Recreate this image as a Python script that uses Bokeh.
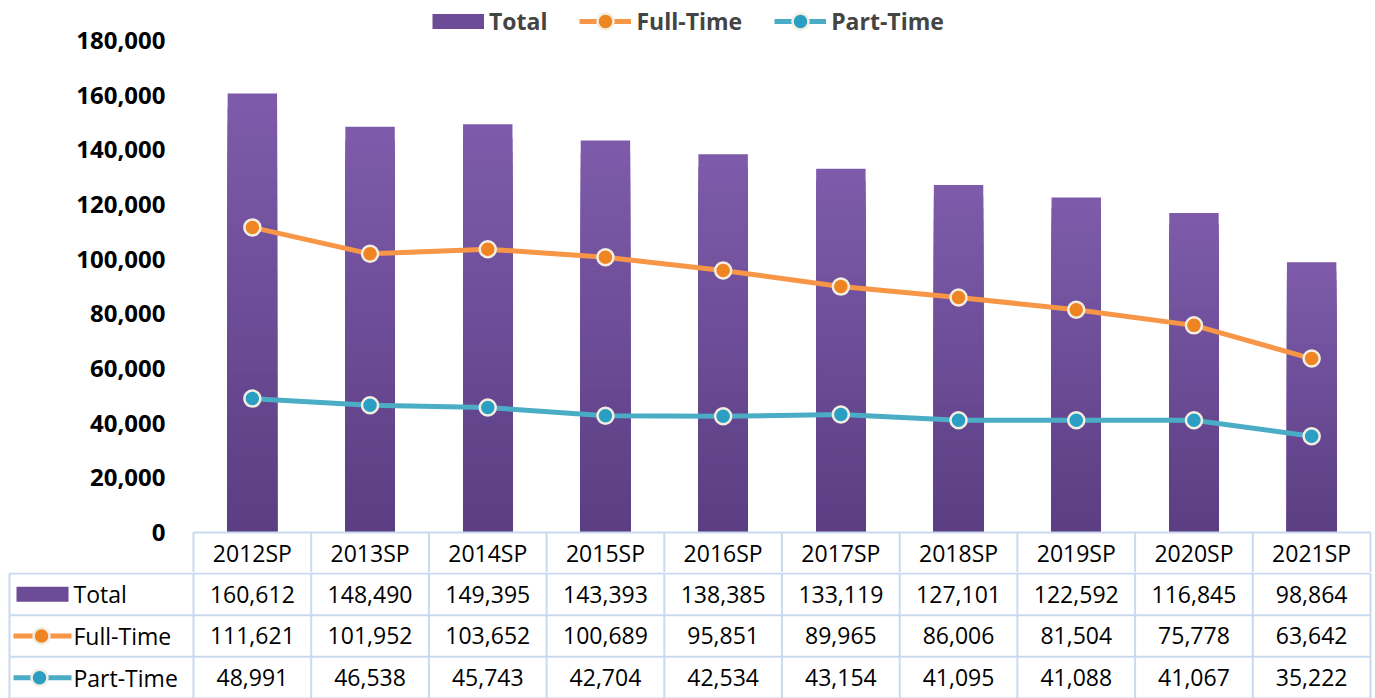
import numpy as np
from bokeh.plotting import figure
from bokeh.layouts import column
from bokeh.models import (Range1d, FixedTicker, NumeralTickFormatter, Legend, LegendItem)
from bokeh.core.properties import value
from bokeh.embed import file_html
from bokeh.resources import INLINE

# ---------------- data ----------------
terms = ["2012SP", "2013SP", "2014SP", "2015SP", "2016SP",
         "2017SP", "2018SP", "2019SP", "2020SP", "2021SP"]
total = [160612, 148490, 149395, 143393, 138385, 133119, 127101, 122592, 116845, 98864]
full_time = [111621, 101952, 103652, 100689, 95851, 89965, 86006, 81504, 75778, 63642]
part_time = [48991, 46538, 45743, 42704, 42534, 43154, 41095, 41088, 41067, 35222]
y_ticks = [0, 20000, 40000, 60000, 80000, 100000, 120000, 140000, 160000, 180000]
series_names = ["Total", "Full-Time", "Part-Time"]

# ---------------- styles ----------------
FONT = "Open Sans"
BAR_TOP = (125, 91, 170)
BAR_BOT = (91, 62, 131)
ORANGE_LINE = "#F79646"
ORANGE_DOT = "#EE8422"
TEAL_LINE = "#4BACC6"
TEAL_DOT = "#2A9EC3"
CREAM = "#F3EEE2"
GRID = "#C9DAF0"
TABLE_FS = "23px"

# ---------------- layout constants (pixels) ----------------
W = 1374
COL_L, COL_R = 193, 1370          # category columns span
COLW = (COL_R - COL_L) / len(terms)
ZERO_Y = 532                      # pixel row of value 0
TOP_Y = 40                        # pixel row of last tick
HEAD_H = 40                       # header row height
TOPH = ZERO_Y + HEAD_H            # chart figure height (includes header row)
UPP = y_ticks[-1] / (ZERO_Y - TOP_Y)   # value units per pixel
FRAME_L = COL_L - 2

xs = list(range(len(terms)))
xr = len(terms) - 0.5
vx = [i - 0.5 for i in range(len(terms) + 1)]

# ---------------- main chart ----------------
p = figure(width=W, height=TOPH,
           x_range=Range1d(-0.5 - (COL_L - FRAME_L) / COLW, xr + (W - COL_R) / COLW),
           y_range=Range1d(-HEAD_H * UPP, y_ticks[-1] + TOP_Y * UPP),
           output_backend="svg", toolbar_location=None,
           min_border_left=FRAME_L, min_border_right=0, min_border_top=0,
           min_border_bottom=0, frame_align=False)
p.xaxis.visible = False
p.grid.visible = False
p.outline_line_color = None
p.background_fill_color = "white"
p.border_fill_color = "white"

ya = p.yaxis[0]
ya.ticker = FixedTicker(ticks=y_ticks)
ya.formatter = NumeralTickFormatter(format="0,0")
ya.major_label_text_font = FONT
ya.major_label_text_font_style = "bold"
ya.major_label_text_font_size = "24px"
ya.major_label_text_color = "black"
ya.axis_line_color = None
ya.major_tick_line_color = None
ya.minor_tick_line_color = None
ya.major_label_standoff = 20

# gradient bars: layered bars, each shorter layer darker (lighter at top)
N = 30
for k in range(N):
    frac = (N - k) / N
    f = 1 - k / (N - 1)
    c = tuple(int(round(BAR_BOT[i] + (BAR_TOP[i] - BAR_BOT[i]) * f)) for i in range(3))
    col = "#%02x%02x%02x" % c
    p.vbar(x=xs, width=0.42, bottom=0, top=[v * frac for v in total],
           fill_color=col, line_color=None)

mid = "#%02x%02x%02x" % tuple(int((BAR_BOT[i] + BAR_TOP[i]) / 2) for i in range(3))
bar_leg = p.line(x=np.array([np.nan]), y=np.array([np.nan]), line_color=mid, line_width=15)

# header row of the data table (category labels)
p.segment(x0=[-0.5], y0=[0], x1=[xr], y1=[0], line_color=GRID, line_width=2)
p.segment(x0=vx, y0=[0] * len(vx), x1=vx, y1=[-HEAD_H * UPP] * len(vx),
          line_color=GRID, line_width=2)
p.text(x=xs, y=[-HEAD_H / 2 * UPP] * len(xs), text=terms, text_font=value(FONT),
       text_font_size=TABLE_FS, text_color="black", text_align="center",
       text_baseline="middle")

ft_line = p.line(xs, full_time, line_color=ORANGE_LINE, line_width=5)
ft_dot = p.scatter(xs, full_time, size=16, fill_color=ORANGE_DOT, line_color=CREAM, line_width=2.5)
pt_line = p.line(xs, part_time, line_color=TEAL_LINE, line_width=5)
pt_dot = p.scatter(xs, part_time, size=16, fill_color=TEAL_DOT, line_color=CREAM, line_width=2.5)

LEG_H = 40
legend = Legend(items=[
    LegendItem(label=series_names[0], renderers=[bar_leg]),
    LegendItem(label=series_names[1], renderers=[ft_line, ft_dot]),
    LegendItem(label=series_names[2], renderers=[pt_line, pt_dot]),
], orientation="horizontal", location=(432 - FRAME_L, TOPH - 1 - LEG_H))
legend.label_text_font = FONT
legend.label_text_font_style = "bold"
legend.label_text_font_size = "23px"
legend.label_standoff = 5
legend.glyph_width = 52
legend.glyph_height = LEG_H
legend.label_height = LEG_H
legend.spacing = 32
legend.padding = 0
legend.margin = 0
legend.border_line_color = None
legend.background_fill_alpha = 0
p.add_layout(legend)

# ---------------- data table (value rows) ----------------
TH = 698 - TOPH
NR = 3
PAD = 1 / 42
xstart = -0.5 - COL_L / COLW
t = figure(width=W, height=TH, x_range=Range1d(xstart, xr + (W - COL_R) / COLW),
           y_range=Range1d(NR, -PAD),
           output_backend="svg", toolbar_location=None, min_border=0,
           min_border_left=0, min_border_right=0, min_border_top=0, min_border_bottom=0,
           frame_align=False)
t.axis.visible = False
t.grid.visible = False
t.outline_line_color = None
t.background_fill_color = "white"
t.border_fill_color = "white"

def px(offset):
    """page-pixel offset from left edge -> table x coordinate"""
    return xstart + offset / COLW

xl = px(9)
t.segment(x0=[xl] * (NR + 1), y0=list(range(NR + 1)), x1=[xr] * (NR + 1),
          y1=list(range(NR + 1)), line_color=GRID, line_width=2)
t.segment(x0=vx + [xl], y0=[0] * (len(vx) + 1), x1=vx + [xl], y1=[NR] * (len(vx) + 1),
          line_color=GRID, line_width=2)

txt_kw = dict(text_font=value(FONT), text_font_size=TABLE_FS, text_color="black",
              text_align="center", text_baseline="middle")
for r, vals in enumerate([total, full_time, part_time]):
    t.text(x=xs, y=[r + 0.5] * len(xs), text=["{:,}".format(v) for v in vals], **txt_kw)

t.text(x=[px(73)] * 3, y=[0.5, 1.5, 2.5], text=series_names,
       text_font=value(FONT), text_font_size=TABLE_FS, text_color="black",
       text_align="left", text_baseline="middle")
t.rect(x=[px(42)], y=[0.5], width=52, height=15, width_units="screen", height_units="screen",
       fill_color=mid, line_color=None)
t.segment(x0=[px(13)], y0=[1.5], x1=[px(71)], y1=[1.5], line_color=ORANGE_LINE, line_width=5)
t.scatter([px(41)], [1.5], size=16, fill_color=ORANGE_DOT, line_color=CREAM, line_width=2.5)
t.segment(x0=[px(13)], y0=[2.5], x1=[px(71)], y1=[2.5], line_color=TEAL_LINE, line_width=5)
t.scatter([px(39)], [2.5], size=16, fill_color=TEAL_DOT, line_color=CREAM, line_width=2.5)

layout = column(p, t, spacing=0)
open("out.html", "w").write(file_html(layout, INLINE))
